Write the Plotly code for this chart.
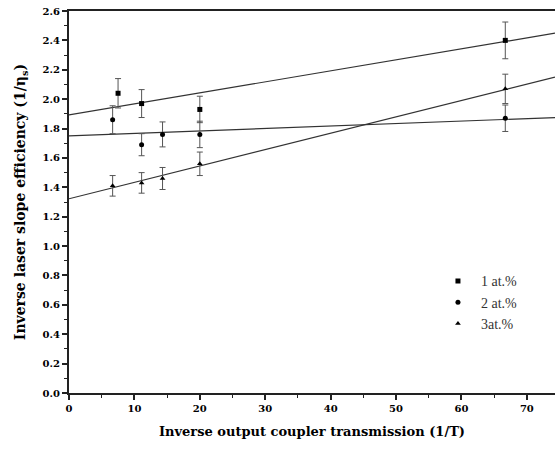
import plotly.graph_objects as go
import numpy as np

# Data
series_names = ["1 at.%", "2 at.%", "3at.%"]
series_symbols = ["square", "circle", "triangle-up"]

x_top = [7.5, 11.1, 20.0, 66.7]
y_top = [2.04, 1.97, 1.93, 2.40]
e_top = [0.10, 0.095, 0.09, 0.125]

x_mid = [6.67, 11.1, 14.3, 20.0, 66.7]
y_mid = [1.86, 1.69, 1.76, 1.76, 1.87]
e_mid = [0.095, 0.075, 0.085, 0.09, 0.09]

x_bot = [6.67, 11.1, 14.3, 20.0, 66.7]
y_bot = [1.41, 1.43, 1.46, 1.56, 2.07]
e_bot = [0.07, 0.07, 0.075, 0.08, 0.10]

# fitted lines (intercept, slope)
fit_intercepts = [1.893, 1.750, 1.322]
fit_slopes = [0.00749, 0.00168, 0.01114]

x_range = [0, 74.3]
y_range = [0, 2.6]

FONT = "DejaVu Serif"

fig = go.Figure()

# fitted lines
xs = np.array(x_range)
for a, b in zip(fit_intercepts, fit_slopes):
    fig.add_trace(go.Scatter(x=xs, y=a + b * xs, mode="lines",
                             line=dict(color="#333333", width=1.2),
                             showlegend=False, hoverinfo="skip"))

for xv, yv, ev, name, sym in zip([x_top, x_mid, x_bot], [y_top, y_mid, y_bot],
                                 [e_top, e_mid, e_bot], series_names, series_symbols):
    fig.add_trace(go.Scatter(
        x=xv, y=yv, mode="markers", name=name,
        marker=dict(symbol=sym, size=5, color="black"),
        error_y=dict(type="data", array=ev, visible=True, color="#555555",
                     thickness=1, width=3),
    ))

fig.update_layout(
    width=555, height=456,
    margin=dict(l=69, r=0, t=11, b=63),
    paper_bgcolor="white", plot_bgcolor="white",
    font=dict(family=FONT, color="black"),
    showlegend=True,
    legend=dict(x=0.753, y=0.334, xanchor="left", yanchor="top",
                bgcolor="rgba(0,0,0,0)", font=dict(family="Liberation Serif", size=14, color="#333"),
                itemwidth=36, tracegroupgap=0),
)

fig.update_xaxes(
    range=x_range, showgrid=False, zeroline=False, automargin=False,
    showline=True, linecolor="#222", linewidth=2, mirror=True,
    ticks="outside", ticklen=5, tickwidth=1.5, tickcolor="#222",
    tick0=0, dtick=10,
    minor=dict(ticks="outside", ticklen=3, tickwidth=1, tickcolor="#222", dtick=5, showgrid=False),
    tickfont=dict(family=FONT, size=10, weight="bold"),
    title=dict(text="Inverse output coupler transmission (1/T)",
               font=dict(family=FONT, size=13, weight="bold"), standoff=14),
)
fig.update_yaxes(
    range=y_range, showgrid=False, zeroline=False, automargin=False,
    showline=True, linecolor="#222", linewidth=2,
    ticks="outside", ticklen=5, tickwidth=1.5, tickcolor="#222",
    tick0=0, dtick=0.2, tickformat=".1f",
    minor=dict(ticks="outside", ticklen=3, tickwidth=1, tickcolor="#222", dtick=0.1, showgrid=False),
    tickfont=dict(family=FONT, size=10, weight="bold"),
    title=dict(text="Inverse laser slope efficiency (1/η<sub>s</sub>)",
               font=dict(family=FONT, size=14, weight="bold"), standoff=14),
)

fig.write_html(
    "out.html",
    config={"displayModeBar": False},
    post_script="document.body.style.margin='0';document.body.style.overflow='hidden';",
)
